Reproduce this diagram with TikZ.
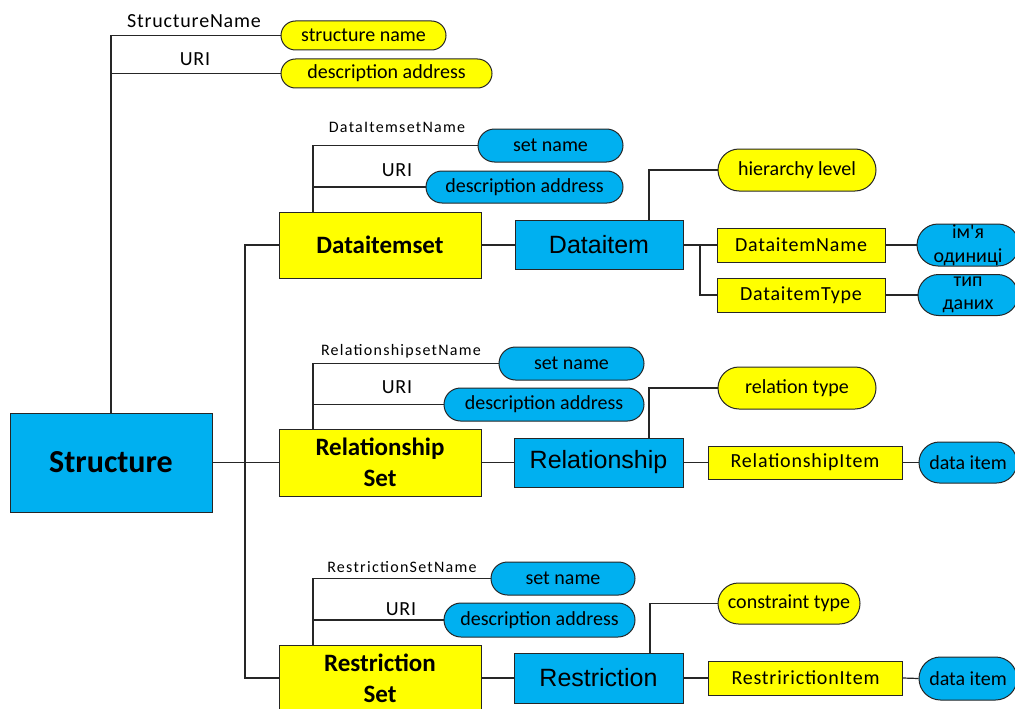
\documentclass[tikz,border=0pt]{standalone}
\usepackage{fontspec}
\setmainfont{Carlito}
\newfontfamily\arialfont{Liberation Sans}
\newfontfamily\lblfont[LetterSpace=8]{Carlito}
\newfontfamily\boxfont[LetterSpace=4]{Carlito}
\usetikzlibrary{shapes.misc}

\definecolor{skyblue}{RGB}{0,176,240}
\definecolor{boxyellow}{RGB}{255,255,0}

\tikzset{
  base/.style={draw=black!85, line width=1pt, inner sep=1pt, align=center},
  ybox/.style={base, rectangle, fill=boxyellow, font=\boxfont\fontsize{20}{22}\selectfont},
  bbox/.style={base, rectangle, fill=skyblue, font=\arialfont\fontsize{25}{28}\selectfont},
  setbox/.style={base, rectangle, fill=boxyellow, minimum width=202pt, font=\bfseries\fontsize{25}{31}\selectfont},
  ypill/.style={base, rounded rectangle, fill=boxyellow, font=\fontsize{20}{22}\selectfont},
  bpill/.style={base, rounded rectangle, fill=skyblue, font=\fontsize{20}{22}\selectfont},
  lbl/.style={inner sep=0pt, font=\boxfont\fontsize{20}{22}\selectfont},
  smalllbl/.style={inner sep=0pt, font=\lblfont\fontsize{16}{18}\selectfont},
  link/.style={draw=black!85, line width=1.2pt}
}

\begin{document}
\begin{tikzpicture}[x=1pt,y=-1pt]
  \useasboundingbox (0,0) rectangle (1015,709);

  % root and its attributes
  \node[base, fill=skyblue, minimum width=202pt, minimum height=99pt,
        font=\bfseries\fontsize{32}{34}\selectfont] (struct) at (111,462.5) {Structure};
  \node[ypill, minimum width=167pt, minimum height=29pt] (sname) at (363.5,35.5) {structure name};
  \node[ypill, minimum width=213pt, minimum height=29pt] (saddr) at (386.5,73.5) {description address};
  \node[lbl] (lsname) at (194,21) {StructureName};
  \node[lbl] (lsuri) at (195,59) {URI};
  \draw[link] (struct.north) |- (sname.west);
  \draw[link] (struct.north) |- (saddr.west);

  % the three sets
  \node[setbox, minimum height=66pt] (dset) at (380,245) {Dataitemset};
  \node[setbox, minimum height=67pt] (rset) at (380,462.5) {Relationship\\Set};
  \node[setbox, minimum height=66pt] (xset) at (380,678) {Restriction\\Set};
  \coordinate (trunk) at (245,462.5);
  \draw[link] (struct.east) -- (rset.west);
  \draw[link] (dset.west) -| (trunk) |- (xset.west);

  % Dataitemset
  \coordinate (dsetA) at (313,212);
  \node[bpill, minimum width=147pt, minimum height=33pt] (dsname) at (550.5,145.5) {set name};
  \node[bpill, minimum width=199pt, minimum height=32pt] (dsaddr) at (524.5,187) {description address};
  \node[smalllbl] (ldsname) at (397,127) {DataItemsetName};
  \node[lbl] (ldsuri) at (397,170) {URI};
  \draw[link] (dsetA) |- (dsname.west);
  \draw[link] (dsetA) |- (dsaddr.west);

  \node[bbox, minimum width=168pt, minimum height=49pt] (ditem) at (599,245) {Dataitem};
  \node[ypill, minimum width=160pt, minimum height=42pt] (hier) at (797,170) {hierarchy level};
  \node[ybox, minimum width=168pt, minimum height=34pt] (dname) at (801,245) {DataitemName};
  \node[ybox, minimum width=168pt, minimum height=34pt] (dtype) at (801,295) {DataitemType};
  \node[bpill, inner sep=0pt, minimum width=100pt, minimum height=42pt,
        font=\fontsize{20}{24}\selectfont] (dnval) at (968,245) {ім\textquotesingle я\\одиниці};
  \node[bpill, inner sep=0pt, minimum width=100pt, minimum height=41pt,
        font=\fontsize{20}{23}\selectfont] (dtval) at (968,295) {тип\\даних};
  \coordinate (ditemA) at (649,221);
  \coordinate (ditemB) at (700,245);
  \draw[link] (dset.east) -- (ditem.west);
  \draw[link] (ditemA) |- (hier.west);
  \draw[link] (ditem.east) -- (dname.west);
  \draw[link] (ditemB) |- (dtype.west);
  \draw[link] (dname.east) -- (dnval.west);
  \draw[link] (dtype.east) -- (dtval.west);

  % Relationship Set
  \coordinate (rsetA) at (313,429);
  \node[bpill, minimum width=147pt, minimum height=33pt] (rsname) at (571.5,363.5) {set name};
  \node[bpill, minimum width=202pt, minimum height=33pt] (rsaddr) at (544,404.5) {description address};
  \node[smalllbl] (lrsname) at (401,351) {RelationshipsetName};
  \node[lbl] (lrsuri) at (397,387) {URI};
  \draw[link] (rsetA) |- (rsname.west);
  \draw[link] (rsetA) |- (rsaddr.west);

  \node[bbox, minimum width=169pt, minimum height=49pt] (rel) at (598.5,462.5) {Relationship};
  \node[ypill, minimum width=160pt, minimum height=42pt] (reltype) at (797,388) {relation type};
  \node[ybox, minimum width=194pt, minimum height=33pt] (relitem) at (805,462.5) {RelationshipItem};
  \node[bpill, minimum width=100pt, minimum height=41pt] (relval) at (968,462.5) {data item};
  \coordinate (relA) at (649,438);
  \draw[link] (rset.east) -- (rel.west);
  \draw[link] (relA) |- (reltype.west);
  \draw[link] (rel.east) -- (relitem.west);
  \draw[link] (relitem.east) -- (relval.west);

  % Restriction Set
  \coordinate (xsetA) at (313,645);
  \node[bpill, minimum width=146pt, minimum height=33pt] (xsname) at (563,578.5) {set name};
  \node[bpill, minimum width=193pt, minimum height=34pt] (xsaddr) at (539.5,620) {description address};
  \node[smalllbl] (lxsname) at (402,567) {RestrictionSetName};
  \node[lbl] (lxsuri) at (401,609) {URI};
  \draw[link] (xsetA) |- (xsname.west);
  \draw[link] (xsetA) |- (xsaddr.west);

  \node[bbox, minimum width=169pt, minimum height=50pt] (restr) at (598.5,678) {Restriction};
  \node[ypill, minimum width=144pt, minimum height=41pt] (ctype) at (789,603.5) {constraint type};
  \node[ybox, minimum width=194pt, minimum height=34pt] (xitem) at (805.5,678) {RestririctionItem};
  \node[bpill, minimum width=100pt, minimum height=43pt] (xval) at (968,678.5) {data item};
  \coordinate (restrA) at (650,653);
  \draw[link] (xset.east) -- (restr.west);
  \draw[link] (restrA) |- (ctype.west);
  \draw[link] (restr.east) -- (xitem.west);
  \draw[link] (xitem.east) -- (xval.west);
\end{tikzpicture}
\end{document}
